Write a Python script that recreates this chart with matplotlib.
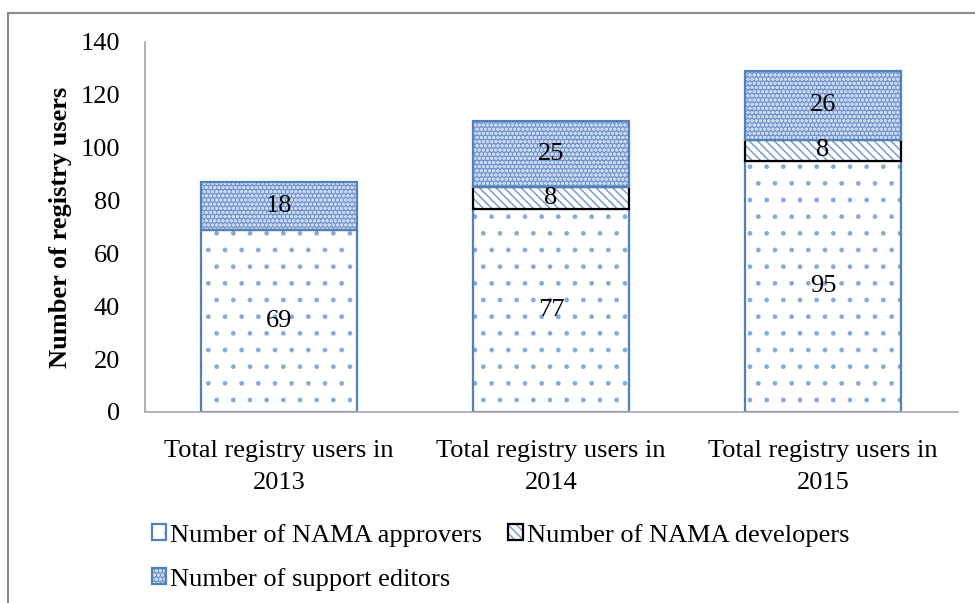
import numpy as np
import matplotlib
matplotlib.use('Agg')
import matplotlib.pyplot as plt
from matplotlib.patches import Patch
from matplotlib.lines import Line2D

plt.rcParams['font.family'] = ['Liberation Serif', 'DejaVu Serif']
plt.rcParams['hatch.linewidth'] = 1.0

categories = ['Total registry users in\n2013', 'Total registry users in\n2014', 'Total registry users in\n2015']
approvers = [69, 77, 95]
developers = [0, 8, 8]
support = [18, 25, 26]
series_names = ['Number of NAMA approvers', 'Number of NAMA developers', 'Number of support editors']

blue = '#4F81BD'
dot_blue = '#8AAAD9'
sup_face = '#7393CC'
sup_hatch = '#C9D7EF'
fs = 19

x = np.arange(len(categories))
width = 0.574

fig = plt.figure(figsize=(9.75, 6.03), dpi=100)
ax = fig.add_axes([145/975, 1-412/603, (958-145)/975, (412-42)/603])

# approvers: white with sparse blue dots
ax.bar(x, approvers, width, color='white', edgecolor=dot_blue, hatch='.', linewidth=0)
ax.bar(x, approvers, width, color='none', edgecolor=blue, linewidth=1.6)

# developers: blue diagonal hatch, black outline
bottom2 = np.array(approvers)
dev = np.array(developers)
mask = dev > 0
ax.bar(x[mask], dev[mask], width, bottom=bottom2[mask], color='white', edgecolor='#6F95CC', hatch='\\\\\\\\', linewidth=0)
ax.bar(x[mask], dev[mask], width, bottom=bottom2[mask], color='none', edgecolor='black', linewidth=1.6)

# support editors: blue with fine light dots
bottom3 = bottom2 + dev
ax.bar(x, support, width, bottom=bottom3, color=sup_face, edgecolor=sup_hatch, hatch='oooo', linewidth=0)
ax.bar(x, support, width, bottom=bottom3, color='none', edgecolor=blue, linewidth=1.6)

# data labels
for i in range(len(x)):
    ax.text(x[i], approvers[i]/2, str(approvers[i]), ha='center', va='center', fontsize=fs)
    if developers[i] > 0:
        ax.text(x[i], bottom2[i] + developers[i]/2, str(developers[i]), ha='center', va='center', fontsize=fs)
    ax.text(x[i], bottom3[i] + support[i]/2, str(support[i]), ha='center', va='center', fontsize=fs)

ax.set_xlim(-0.493, 2.496)
ax.set_ylim(0, 140)
ax.set_yticks(np.arange(0, 141, 20))
ax.set_xticks(x)
ax.set_xticklabels(categories, fontsize=fs, linespacing=1.6)
ax.tick_params(axis='y', length=0, pad=18, labelsize=fs)
ax.tick_params(axis='x', length=0, pad=20)
ax.set_ylabel('Number of registry users', fontsize=fs, fontweight='bold', labelpad=6)

for side in ['top', 'right']:
    ax.spines[side].set_visible(False)
ax.spines['left'].set_color('#A6A6A6')
ax.spines['bottom'].set_color('#A6A6A6')
ax.spines['left'].set_linewidth(1.2)
ax.spines['bottom'].set_linewidth(1.2)

# legend (column-major fill, so order handles to read row by row)
h_app = (Patch(facecolor='white', edgecolor=dot_blue, hatch='.', linewidth=0),
         Patch(facecolor='none', edgecolor=blue, linewidth=1.6))
h_dev = (Patch(facecolor='white', edgecolor='#6F95CC', hatch='\\\\\\\\', linewidth=0),
         Patch(facecolor='none', edgecolor='black', linewidth=1.6))
h_sup = (Patch(facecolor=sup_face, edgecolor=sup_hatch, hatch='oooo', linewidth=0),
         Patch(facecolor='none', edgecolor=blue, linewidth=1.6))
leg = fig.legend([h_app, h_sup, h_dev], [series_names[0], series_names[2], series_names[1]],
                 ncol=2, loc='upper left', bbox_to_anchor=(141/975, 1-513/603),
                 frameon=False, fontsize=fs, handlelength=0.55, handleheight=0.55,
                 handletextpad=0.15, columnspacing=1.0, labelspacing=0.8, borderaxespad=0)

# outer border (only left and top visible in the crop)
fig.add_artist(Line2D([8/975, 8/975], [0, 1-13/603], color='#8C8C8C', linewidth=1.5, transform=fig.transFigure))
fig.add_artist(Line2D([8/975, 1], [1-13/603, 1-13/603], color='#8C8C8C', linewidth=1.5, transform=fig.transFigure))

fig.savefig('out.png', dpi=100)
